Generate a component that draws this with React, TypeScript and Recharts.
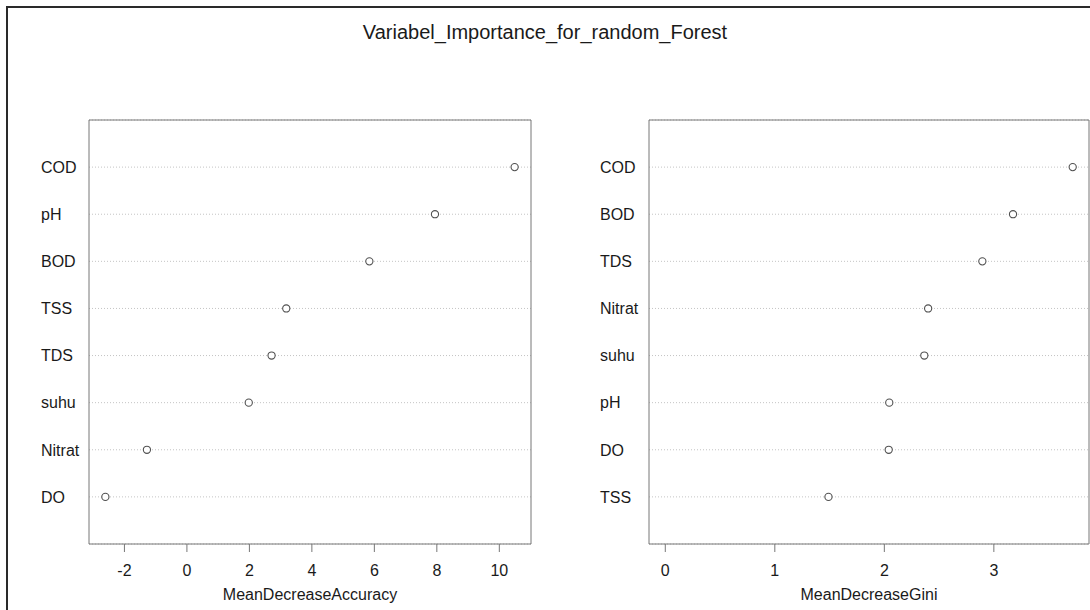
import { ScatterChart, Scatter, XAxis, YAxis, CartesianGrid, ReferenceArea, Label } from 'recharts';

const accuracyNames = ['COD', 'pH', 'BOD', 'TSS', 'TDS', 'suhu', 'Nitrat', 'DO'];
const accuracyValues = [10.49, 7.94, 5.84, 3.18, 2.71, 1.98, -1.28, -2.61];
const accuracyTicks = [-2, 0, 2, 4, 6, 8, 10];

const giniNames = ['COD', 'BOD', 'TDS', 'Nitrat', 'suhu', 'pH', 'DO', 'TSS'];
const giniValues = [3.72, 3.175, 2.895, 2.4, 2.365, 2.045, 2.04, 1.49];
const giniTicks = [0, 1, 2, 3];

const rowTicks = [1, 2, 3, 4, 5, 6, 7, 8];

const FONT = '"Liberation Sans", Arial, Helvetica, sans-serif';
const TEXT = '#1a1a1a';

// R style axis extension: 4% on each side
const extend = (lo: number, hi: number): [number, number] => {
  const pad = (hi - lo) * 0.04;
  return [lo - pad, hi + pad];
};

const Dot = (props: any) => (
  <circle cx={props.cx} cy={props.cy} r={3.6} fill="#fff" stroke="#505050" strokeWidth={1.1} />
);

interface PanelProps {
  names: string[];
  values: number[];
  ticks: number[];
  domain: [number, number];
  xLabel: string;
  labelX: number;
  width: number;
  marginRight: number;
}

const Panel = ({ names, values, ticks, domain, xLabel, labelX, width, marginRight }: PanelProps) => {
  const n = names.length;
  const data = values.map((v, i) => ({ name: names[i], value: v, pos: n - i }));
  const nameAt = (pos: number) => names[n - pos];

  const RowLabel = (props: any) => (
    <text x={labelX} y={props.y} dy="0.36em" textAnchor="start" fontSize={16} fill={TEXT} fontFamily={FONT}>
      {nameAt(props.payload.value)}
    </text>
  );

  return (
    <ScatterChart width={width} height={610} margin={{ top: 120, right: marginRight, bottom: 0, left: 0 }}>
      <CartesianGrid vertical={false} stroke="#c4c4c4" strokeDasharray="1 2" />
      <XAxis
        type="number"
        dataKey="value"
        domain={domain}
        ticks={ticks}
        allowDataOverflow
        height={66}
        axisLine={false}
        tickSize={8}
        tickMargin={13}
        tickLine={{ stroke: '#777' }}
        tick={{ fontSize: 16, fill: TEXT, fontFamily: FONT }}
      >
        <Label value={xLabel} position="insideBottom" offset={10} fontSize={16} fill={TEXT} fontFamily={FONT} />
      </XAxis>
      <YAxis
        type="number"
        dataKey="pos"
        domain={[0, n + 1]}
        ticks={rowTicks}
        width={89}
        axisLine={false}
        tickLine={false}
        tick={<RowLabel />}
      />
      <ReferenceArea x1={domain[0]} x2={domain[1]} y1={0} y2={n + 1} fill="none" stroke="#777" strokeWidth={1} />
      <Scatter data={data} shape={<Dot />} isAnimationActive={false} />
    </ScatterChart>
  );
};

export default function App() {
  const accDomain = extend(Math.min(...accuracyValues), Math.max(...accuracyValues));
  const giniDomain = extend(0, Math.max(...giniValues));

  return (
    <div style={{ position: 'fixed', left: 0, top: 0, width: 1090, height: 610, background: '#fff', overflow: 'hidden' }}>
      <div
        style={{
          position: 'absolute',
          left: 6,
          top: 6,
          width: 1100,
          height: 620,
          borderTop: '2px solid #2a2a2a',
          borderLeft: '2px solid #2a2a2a',
        }}
      />
      <div
        style={{
          position: 'absolute',
          left: 0,
          top: 20,
          width: 1090,
          textAlign: 'center',
          fontFamily: FONT,
          fontSize: 20,
          color: TEXT,
          lineHeight: '24px',
        }}
      >
        Variabel_Importance_for_random_Forest
      </div>
      <div style={{ position: 'absolute', left: 0, top: 0 }}>
        <Panel
          names={accuracyNames}
          values={accuracyValues}
          ticks={accuracyTicks}
          domain={accDomain}
          xLabel="MeanDecreaseAccuracy"
          labelX={41}
          width={560}
          marginRight={29}
        />
      </div>
      <div style={{ position: 'absolute', left: 560, top: 0 }}>
        <Panel
          names={giniNames}
          values={giniValues}
          ticks={giniTicks}
          domain={giniDomain}
          xLabel="MeanDecreaseGini"
          labelX={40}
          width={530}
          marginRight={1}
        />
      </div>
    </div>
  );
}
